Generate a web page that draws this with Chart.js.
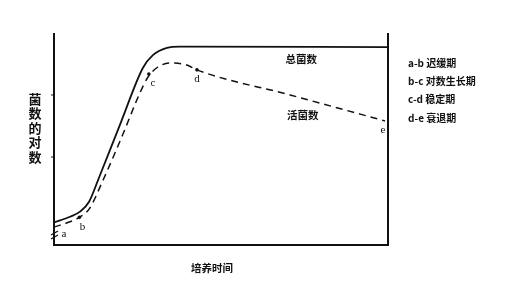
<!DOCTYPE html>
<html>
<head>
<meta charset="utf-8">
<script src="https://cdn.jsdelivr.net/npm/chart.js@4.4.1/dist/chart.umd.min.js"></script>
<style>
  body { margin: 0; background: #fff; }
  canvas { display: block; }
</style>
</head>
<body>
<canvas id="growthChart" width="512" height="303"></canvas>
<script>
// Bacterial growth curve (x = culture time, y = log of cell count, both relative 0-100)
const totalX = [0, 4.8, 7.8, 10.5, 13.2, 20, 26.6, 29.6, 33.8, 37.7, 100];
const totalY = [10.7, 13.4, 15.8, 20.5, 30.8, 58, 83.9, 90.0, 93.4, 94.0, 93.8];

const viableX = [0, 4.8, 7.6, 10.5, 14.7, 20.5, 25.7, 28.1, 30.8, 34.7, 39.8, 42.8, 70.7, 99.1];
const viableY = [8.5, 11.0, 13.1, 17.0, 30.8, 52, 72.0, 79.5, 84.0, 86.3, 85.3, 83.0, 71.1, 58.8];

// phase points marked with dots (b, c, d)
const markX = [7.6, 28.4, 42.8];
const markY = [13.1, 81.0, 83.0];

// letters next to the curve
const letterText = ['a', 'b', 'c', 'd', 'e'];
const letterX = [3.0, 8.5, 29.6, 42.8, 98.5];
const letterY = [5.2, 8.4, 76.8, 78.7, 54.5];

const phaseLegend = ['a-b 迟缓期', 'b-c 对数生长期', 'c-d 稳定期', 'd-e 衰退期'];
const yTitle = ['菌', '数', '的', '对', '数'];

function toPoints(xs, ys) {
    return xs.map((x, i) => ({ x: x, y: ys[i] }));
}

const cjk = '"Noto Sans CJK SC", "Noto Sans", sans-serif';

const decorPlugin = {
    id: 'decor',
    afterDraw(chart) {
        const ctx = chart.ctx;
        const xs = chart.scales.x;
        const ys = chart.scales.y;
        const area = chart.chartArea;
        ctx.save();
        ctx.fillStyle = '#111';
        ctx.strokeStyle = '#111';

        // letters
        ctx.font = '11px "Liberation Serif", "DejaVu Serif", serif';
        ctx.textAlign = 'center';
        ctx.textBaseline = 'middle';
        letterText.forEach((t, i) => {
            ctx.fillText(t, xs.getPixelForValue(letterX[i]), ys.getPixelForValue(letterY[i]));
        });

        // curve names
        ctx.font = 'bold 10.5px ' + cjk;
        ctx.fillText('总菌数', xs.getPixelForValue(74), ys.getPixelForValue(88));
        ctx.fillText('活菌数', xs.getPixelForValue(74.5), ys.getPixelForValue(61.5));

        // phase legend
        ctx.textAlign = 'left';
        ctx.font = 'bold 10px ' + cjk;
        phaseLegend.forEach((t, i) => {
            ctx.fillText(t, 408, 63 + i * 18.3);
        });

        // y title, stacked characters
        ctx.textAlign = 'center';
        ctx.font = 'bold 13px ' + cjk;
        yTitle.forEach((t, i) => {
            ctx.fillText(t, 35, 99 + i * 14.5);
        });

        // x title
        ctx.font = 'bold 10.5px ' + cjk;
        ctx.fillText('培养时间', 212, 268);

        // small ticks on the left axis
        ctx.lineWidth = 1;
        [71.1, 41.7].forEach(v => {
            const py = ys.getPixelForValue(v);
            ctx.beginPath();
            ctx.moveTo(area.left - 3, py);
            ctx.lineTo(area.left, py);
            ctx.stroke();
        });

        // axis break mark
        ctx.lineWidth = 1.2;
        const bx = area.left;
        [233, 237].forEach(by => {
            ctx.beginPath();
            ctx.moveTo(bx - 3, by + 2);
            ctx.lineTo(bx + 4, by - 2);
            ctx.stroke();
        });
        ctx.restore();
    }
};

new Chart(document.getElementById('growthChart'), {
    type: 'line',
    data: {
        datasets: [
            {
                label: '总菌数',
                data: toPoints(totalX, totalY),
                borderColor: '#111',
                borderWidth: 1.8,
                pointRadius: 0,
                cubicInterpolationMode: 'monotone',
                fill: false
            },
            {
                label: '活菌数',
                data: toPoints(viableX, viableY),
                borderColor: '#111',
                borderWidth: 1.5,
                borderDash: [7, 5],
                pointRadius: 0,
                cubicInterpolationMode: 'monotone',
                fill: false
            },
            {
                label: 'marks',
                data: toPoints(markX, markY),
                showLine: false,
                pointRadius: 1.8,
                pointBackgroundColor: '#111',
                pointBorderWidth: 0
            }
        ]
    },
    options: {
        responsive: false,
        animation: false,
        layout: { padding: { left: 46, right: 116, top: 34, bottom: 50 } },
        plugins: {
            legend: { display: false },
            tooltip: { enabled: false }
        },
        scales: {
            x: {
                type: 'linear',
                min: 0,
                max: 100,
                ticks: { display: false },
                grid: { display: false },
                border: { display: true, color: '#111', width: 2 }
            },
            y: {
                min: 0,
                max: 100,
                ticks: { display: false },
                grid: { display: false },
                border: { display: true, color: '#111', width: 2 }
            },
            y2: {
                position: 'right',
                min: 0,
                max: 100,
                ticks: { display: false },
                grid: { display: false },
                border: { display: true, color: '#111', width: 2 }
            }
        }
    },
    plugins: [decorPlugin]
});
</script>
</body>
</html>
